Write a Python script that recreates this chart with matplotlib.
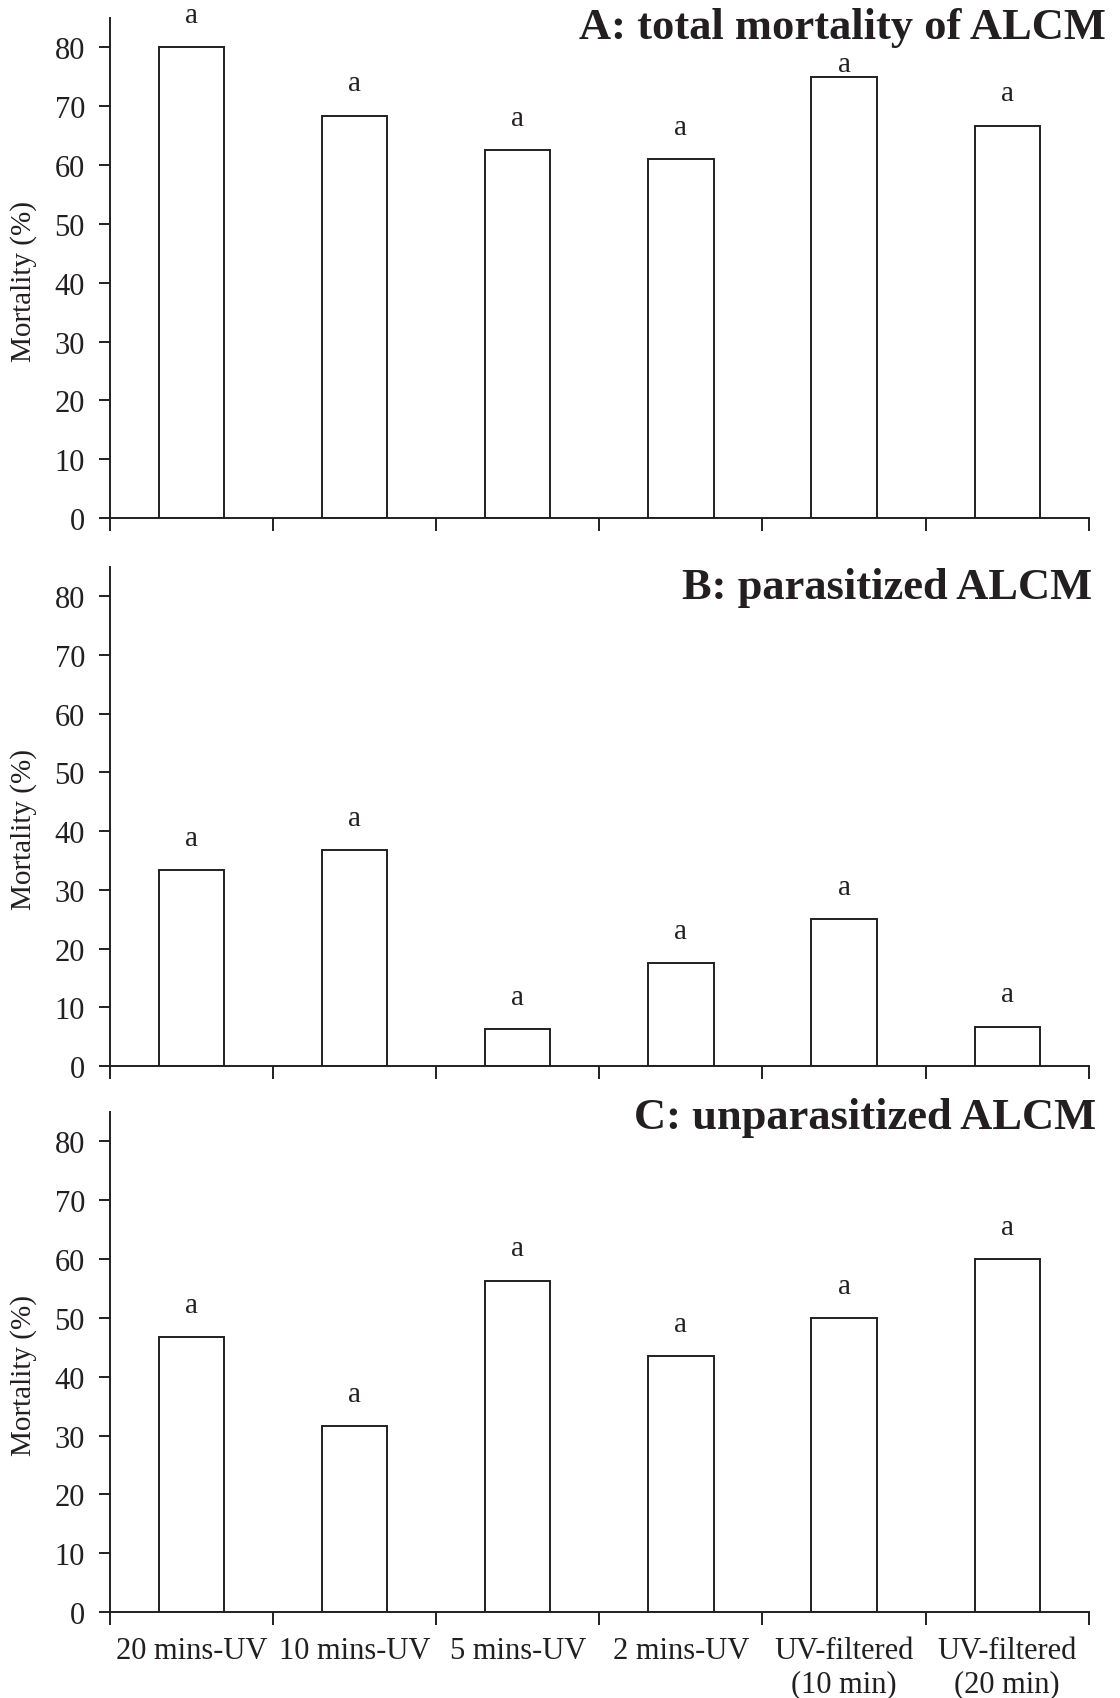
"""
ALCM mortality under UV treatments: three stacked bar panels
"""
import matplotlib
matplotlib.use('Agg')
import matplotlib.pyplot as plt
import numpy as np

plt.rcParams['font.family'] = ['Liberation Serif', 'DejaVu Serif']

# categories and values (% mortality)
treatments = ['20 mins-UV', '10 mins-UV', '5 mins-UV', '2 mins-UV',
              'UV-filtered\n(10 min)', 'UV-filtered\n(20 min)']
total_mortality = [80.0, 68.4, 62.5, 61.0, 75.0, 66.7]
parasitized = [33.3, 36.8, 6.25, 17.5, 25.0, 6.7]
unparasitized = [46.7, 31.6, 56.3, 43.5, 50.0, 60.0]
letters = ['a', 'a', 'a', 'a', 'a', 'a']

panels = [
    ('A: total mortality of ALCM', total_mortality),
    ('B: parasitized ALCM', parasitized),
    ('C: unparasitized ALCM', unparasitized),
]

ink = '#231f20'
fig = plt.figure(figsize=(11.2, 16.99), dpi=100)

# axes rectangles in figure fractions (left, bottom, width, height)
boxes = [
    (0.0982, 0.6945, 0.8739, 0.2943),
    (0.0982, 0.3720, 0.8739, 0.2937),
    (0.0982, 0.0506, 0.8739, 0.2943),
]
title_pos = [(0.987, 0.995), (0.975, 0.6655), (0.979, 0.3535)]

x = np.arange(len(treatments))
renderer = fig.canvas.get_renderer()

for i, ((title, vals), box) in enumerate(zip(panels, boxes)):
    ax = fig.add_axes(box)
    ax.bar(x, vals, width=0.4, facecolor='white', edgecolor=ink, linewidth=1.4)
    ax.set_xlim(-0.5, len(treatments) - 0.5)
    ax.set_ylim(0, 85)
    ax.set_yticks(range(0, 81, 10))
    for s in ['top', 'right']:
        ax.spines[s].set_visible(False)
    for s in ['left', 'bottom']:
        ax.spines[s].set_color(ink)
        ax.spines[s].set_linewidth(1.4)
    ax.tick_params(axis='y', direction='out', length=8, width=1.4, color=ink,
                   labelsize=22, labelcolor=ink, pad=10)
    # category boundaries carry the tick marks
    ax.set_xticks(np.arange(-0.5, len(treatments), 1.0), minor=True)
    ax.tick_params(axis='x', which='minor', direction='out', length=9, width=1.4, color=ink)
    ax.set_xticks(x)
    ax.tick_params(axis='x', which='major', length=0, labelsize=22, labelcolor=ink, pad=17)
    if i < 2:
        ax.set_xticklabels([])
    else:
        ax.set_xticklabels(treatments, linespacing=1.2)
    ax.set_ylabel('Mortality (%)', fontsize=21, color=ink, va='center')
    ax.yaxis.set_label_coords(-0.088, 0.475)

    ttl = fig.text(title_pos[i][0], title_pos[i][1], title, ha='right', va='top',
                   fontsize=32, fontweight='bold', color=ink)
    tb = ttl.get_window_extent(renderer)

    for xi, v, lt in zip(x, vals, letters):
        t = ax.text(xi, v + 5.5, lt, ha='center', va='center', fontsize=21,
                    color=ink, clip_on=False)
        # push the letter below the panel title if they collide
        lb = t.get_window_extent(renderer)
        if lb.x1 > tb.x0 and lb.x0 < tb.x1 and lb.y1 > tb.y0:
            shift = lb.y1 - tb.y0 + 4
            xd, yd = ax.transData.transform((xi, v + 5.5))
            t.set_position(ax.transData.inverted().transform((xd, yd - shift)))

fig.savefig('out.png', dpi=100)
plt.close(fig)
